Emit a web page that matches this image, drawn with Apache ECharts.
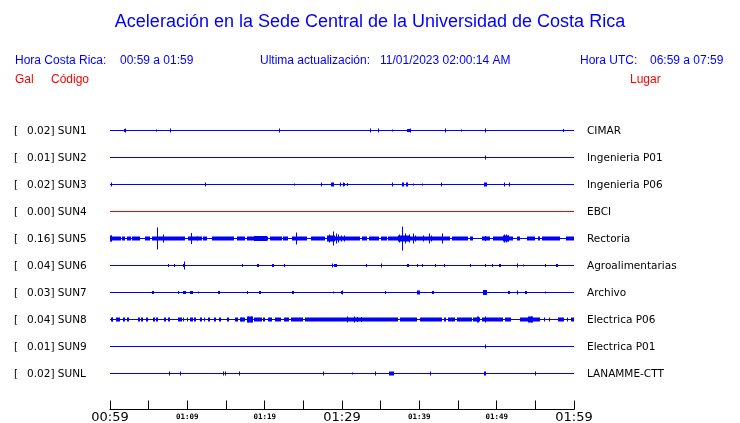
<!DOCTYPE html>
<html><head><meta charset="utf-8">
<script src="https://cdn.jsdelivr.net/npm/echarts@6/dist/echarts.min.js"></script>
<style>html,body{margin:0;padding:0;background:#fff}#c{width:740px;height:423px}</style>
</head><body><div id="c"></div>
<script>
const stations = ['SUN1','SUN2','SUN3','SUN4','SUN5','SUN6','SUN7','SUN8','SUN9','SUNL'];
const peaks = ['0.02','0.01','0.02','0.00','0.16','0.04','0.03','0.04','0.01','0.02'];
const places = ['CIMAR','Ingenieria P01','Ingenieria P06','EBCI','Rectoria','Agroalimentarias','Archivo','Electrica P06','Electrica P01','LANAMME-CTT'];
const tickLabels = ['00:59','','01:09','','01:19','','01:29','','01:39','','01:49','','01:59'];

// spikes: [minute after 00:59, half amplitude (px)]
const sun1Spikes = [[1.9,2],[6.0,1],[7.7,2],[21.8,2],[33.6,2],[34.6,2],[36.5,1],[38.5,1.5],[38.8,2],[43.3,2],[45.4,1],[48.5,2],[58.6,1.5]];
const sun2Spikes = [[48.5,2]];
const sun3Spikes = [[0.1,2],[12.3,2],[23.8,1],[27.3,2],[29.8,2],[30.1,2],[30.3,1.5],[30.7,1.5],[36.5,2],[39.2,1],[40.4,1],[42.8,2],[50.9,2],[51.6,2]];
const sun4Spikes = [];
const sun5Spikes = [[0.1,3],[6.03,11],[6.9,4],[10.47,5.5],[11.2,2],[24.0,6],[28.3,4],[28.8,7],[29.2,5],[29.5,4],[29.9,3],[30.2,3],[37.4,4],[37.8,12],[38.2,5],[38.6,4],[39.2,5],[39.5,3],[40.5,3],[41.2,5],[41.5,3],[42.9,5],[48.5,2.5],[50.9,4],[51.2,4],[51.5,3]];
const sun6Spikes = [[7.54,1.5],[8.32,1.5],[9.61,4],[17.1,1.5],[22.5,1.5],[28.75,2],[33.06,1.5],[35.0,2],[39.66,1.5],[40.4,1.5],[42.0,1.5],[43.2,1.5],[46.55,1.5],[48.49,1.5],[49.35,1.5],[52.6,2],[53.4,1],[56.3,1.5]];
const sun7Spikes = [[8.75,1.5],[11.4,1],[28.9,1],[29.96,2],[52.6,2],[56.25,1]];
const sun8Spikes = [[0.2,2],[16.9,2],[17.8,3],[18.2,3],[30.6,3],[31.5,3],[32.0,2.5],[32.5,2.5],[47.4,3],[47.6,3],[48.5,3],[54.4,3]];
const sun9Spikes = [[48.5,2]];
const sunLSpikes = [[7.67,2],[9.1,2],[14.66,2],[14.87,2],[16.72,2],[27.6,2],[31.34,1],[34.3,2],[41.4,2],[54.96,2]];

// blobs / noise bands: [start minute, end minute, thickness (px)]
const sun1Blobs = [[1.75,2.05,3],[38.4,38.9,3]];
const sun2Blobs = [];
const sun3Blobs = [[28.6,29.0,4],[37.8,38.0,4],[38.3,38.5,4],[48.4,48.7,4]];
const sun4Blobs = [];
const sun5Blobs = [[0,1.38,4],[1.59,1.94,4],[2.2,2.72,4],[2.89,3.88,4],[4.53,5.17,4],[5.39,9.7,4],[10.13,11.85,4],[12.07,12.5,4],[13.15,16.08,4],[16.38,17.46,4],[17.67,18.75,4],[18.97,20.47,4],[20.69,22.2,4],[22.41,23.06,4],[23.49,25.43,4],[25.99,27.8,4],[28.02,32.33,4],[32.54,33.19,4],[33.53,34.83,4],[35.0,35.78,4],[35.99,43.97,4],[44.18,46.34,4],[46.55,46.98,4],[48.06,49.14,4],[49.57,52.16,4],[52.59,53.02,4],[53.88,54.96,4],[55.39,55.6,4],[55.91,58.19,4],[58.93,60,4],[18.62,20.26,5],[28.1,29.1,6],[37.3,38.8,6],[50.8,51.6,6],[0,0.3,6]];
const sun6Blobs = [[9.5,9.75,3],[19.0,19.25,3],[20.9,21.15,3],[29.0,29.3,3],[38.45,38.7,3],[50.3,50.55,3],[57.7,57.95,3]];
const sun7Blobs = [[5.45,5.7,3],[9.45,9.8,3],[10.35,10.7,3],[14.0,14.25,3],[17.7,17.9,3],[19.3,19.55,3],[23.5,23.75,3],[29.9,30.05,3],[35.5,35.75,3],[39.7,40.1,4],[41.6,41.85,3],[48.2,48.8,5],[51.45,51.7,3],[53.65,53.9,3]];
const sun8Blobs = [[0.1,0.34,4],[0.74,0.98,4],[1.09,1.33,4],[1.73,1.97,4],[2.16,2.4,4],[3.67,3.91,4],[4.06,4.3,4],[4.62,4.86,4],[5.61,5.85,4],[6.0,6.24,4],[7.04,7.28,4],[7.55,7.79,4],[8.84,9.35,4],[9.44,9.61,4],[9.9,10.1,4],[10.34,10.78,4],[10.9,11.1,4],[11.6,11.84,4],[12.1,12.3,4],[12.64,12.88,4],[13.46,13.7,4],[14.1,14.34,4],[15.18,15.42,4],[16.16,16.6,4],[16.8,17.46,4],[17.67,18.53,6],[18.66,19.6,4],[19.83,20.04,4],[20.47,20.9,4],[21.34,22.07,4],[22.5,23.15,4],[23.36,25.0,4],[25.2,37.28,4],[37.5,39.66,4],[40.09,42.89,4],[43.19,43.45,4],[43.75,44.61,4],[44.83,46.77,4],[46.98,47.84,4],[48.06,50.86,4],[51.08,51.81,4],[53.02,54.09,4],[54.09,54.66,6],[54.74,55.6,4],[56.1,56.2,4],[56.8,56.9,4],[57.97,58.71,4],[59.05,59.27,4],[59.57,60,4]];
const sun9Blobs = [];
const sunLBlobs = [[36.1,36.7,4],[48.4,48.6,4]];

const spikes = [sun1Spikes,sun2Spikes,sun3Spikes,sun4Spikes,sun5Spikes,sun6Spikes,sun7Spikes,sun8Spikes,sun9Spikes,sunLSpikes];
const blobs = [sun1Blobs,sun2Blobs,sun3Blobs,sun4Blobs,sun5Blobs,sun6Blobs,sun7Blobs,sun8Blobs,sun9Blobs,sunLBlobs];

const BLUE = '#0000ff', RED = '#ff0000';
const chart = echarts.init(document.getElementById('c'), null, {renderer:'canvas'});
const series = [];
stations.forEach((s, i) => {
  const base = 9 - i;
  const color = i === 3 ? RED : BLUE;
  series.push({type:'line', data:[[0, base], [60, base]], symbol:'none', silent:true, animation:false, z:2,
    lineStyle:{color, width:1}});
  series.push({type:'custom', silent:true, animation:false, z:3, encode:{x:0, y:1},
    data: spikes[i].map(([t, a]) => [t, base, a]),
    renderItem:(params, api) => {
      const p = api.coord([api.value(0), api.value(1)]);
      const h = api.value(2);
      const x = Math.round(p[0]) + 0.5;
      return {type:'line', shape:{x1:x, y1:p[1] - h, x2:x, y2:p[1] + h}, style:{stroke:color, lineWidth:1}};
    }});
  series.push({type:'custom', silent:true, animation:false, z:3, encode:{x:[0, 1], y:2},
    data: blobs[i].map(([a, b, h]) => [a, b, base, h]),
    renderItem:(params, api) => {
      const p0 = api.coord([api.value(0), api.value(2)]);
      const p1 = api.coord([api.value(1), api.value(2)]);
      const h = api.value(3);
      const x0 = Math.round(p0[0]);
      const w = Math.max(1, Math.round(p1[0]) - x0);
      return {type:'rect', shape:{x:x0, y:p0[1] - h / 2, width:w, height:h}, style:{fill:color}};
    }});
});

chart.setOption({
  animation:false,
  title:{text:'Aceleración en la Sede Central de la Universidad de Costa Rica', left:'center', top:8,
    textStyle:{fontFamily:'Liberation Sans', fontSize:18, fontWeight:'normal', color:BLUE}},
  grid:{left:110, right:166, top:103.5, bottom:13.5, containLabel:false, outerBoundsMode:'none'},
  xAxis:{type:'value', min:0, max:60, interval:5,
    axisLine:{onZero:false, lineStyle:{color:'#000', width:1}},
    axisTick:{inside:true, length:9, lineStyle:{color:'#000', width:1}},
    splitLine:{show:false},
    axisLabel:{margin:1, showMinLabel:true, showMaxLabel:true, hideOverlap:false,
      formatter:(v) => { const l = tickLabels[Math.round(v / 5)]; if (!l) return ''; return (v % 30 === 0 ? '{big|' : '{small|') + l + '}'; },
      rich:{big:{fontFamily:'DejaVu Sans', fontSize:13, color:'#000', lineHeight:14},
            small:{fontFamily:'DejaVu Sans Mono', fontWeight:'bold', fontSize:7.5, color:'#000', lineHeight:13}}}},
  yAxis:{type:'value', min:-4/3, max:10, show:false},
  series
});

const F = 'Liberation Sans';
const hdr = (text, x, y, color) => ({type:'text', x, y, silent:true,
  style:{text, fontFamily:F, fontSize:12, fill:color, verticalAlign:'middle', align:'left'}});
const graphics = [
  hdr('Hora Costa Rica:', 15, 61, BLUE), hdr('00:59 a 01:59', 120, 61, BLUE),
  hdr('Ultima actualización:', 260, 61, BLUE), hdr('11/01/2023 02:00:14 AM', 380, 61, BLUE),
  hdr('Hora UTC:', 580, 61, BLUE), hdr('06:59 a 07:59', 650, 61, BLUE),
  hdr('Gal', 15, 80, RED), hdr('Código', 51, 80, RED), hdr('Lugar', 630, 80, RED)
];
stations.forEach((s, i) => {
  const y = chart.convertToPixel({gridIndex:0}, [0, 9 - i])[1] + 0.5;
  const st = {fontFamily:'DejaVu Sans', fontSize:10.5, fill:'#000', verticalAlign:'middle'};
  graphics.push({type:'text', x:14, y, silent:true, style:Object.assign({text:'['}, st)});
  graphics.push({type:'text', x:27, y, silent:true, style:Object.assign({text:peaks[i] + '] ' + s}, st)});
  graphics.push({type:'text', x:587, y, silent:true, style:Object.assign({text:places[i]}, st)});
});
chart.setOption({graphic:graphics});
</script></body></html>
